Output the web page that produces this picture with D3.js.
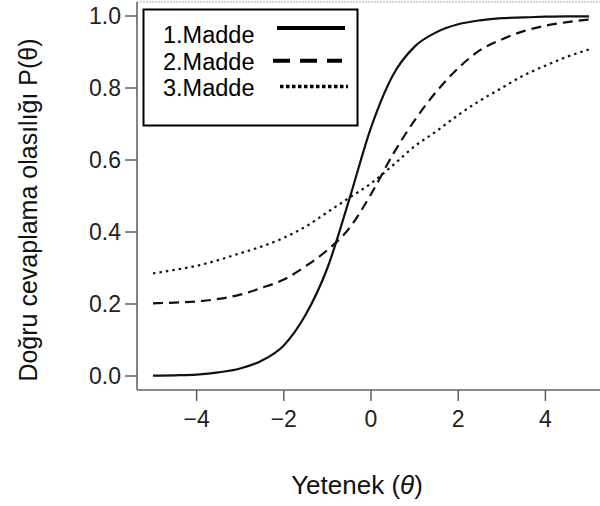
<!DOCTYPE html>
<html>
<head>
<meta charset="utf-8">
<script src="https://cdn.jsdelivr.net/npm/d3@7"></script>
<style>
  body { margin: 0; background: #fff; }
  svg { display: block; font-family: "Liberation Sans", Arial, sans-serif; }
  .tick-label { fill: #222; font-size: 23px; }
</style>
</head>
<body>
<svg id="chart" width="600" height="506"></svg>
<script>
const theta = [-5, -4.5, -4, -3.5, -3, -2.5, -2, -1.5, -1, -0.5, 0, 0.5, 1, 1.5, 2, 2.5, 3, 3.5, 4, 4.5, 5];

// Probability of a correct answer, one array per item
const item1 = [0.001, 0.002, 0.004, 0.01, 0.021, 0.043, 0.085, 0.17, 0.30, 0.49, 0.69, 0.835, 0.915, 0.955, 0.977, 0.988, 0.994, 0.996, 0.998, 0.999, 0.999];
const item2 = [0.202, 0.204, 0.207, 0.214, 0.226, 0.245, 0.268, 0.305, 0.35, 0.41, 0.505, 0.615, 0.71, 0.79, 0.855, 0.905, 0.935, 0.958, 0.973, 0.983, 0.99];
const item3 = [0.285, 0.295, 0.306, 0.322, 0.341, 0.36, 0.384, 0.415, 0.455, 0.495, 0.535, 0.585, 0.638, 0.68, 0.725, 0.765, 0.80, 0.835, 0.862, 0.887, 0.907];

const itemNames = ['1.Madde', '2.Madde', '3.Madde'];
const xTicks = [-4, -2, 0, 2, 4];
const yTicks = [0, 0.2, 0.4, 0.6, 0.8, 1.0];

const svg = d3.select('#chart');

// scales fitted to the reference frame
const xScale = d3.scaleLinear().domain([-5, 5]).range([153, 589]);
const yScale = d3.scaleLinear().domain([0, 1]).range([376, 16]);

const box = {left: 137, top: 2, bottom: 390};

// plot frame (right side runs off the image)
svg.append('line')
    .attr('x1', box.left).attr('x2', 600)
    .attr('y1', box.top).attr('y2', box.top)
    .attr('stroke', '#aaa').attr('stroke-width', 1.2)
    .attr('stroke-dasharray', '2,1');
svg.append('line')
    .attr('x1', box.left).attr('x2', box.left)
    .attr('y1', box.top).attr('y2', box.bottom)
    .attr('stroke', '#666').attr('stroke-width', 1.6);
svg.append('line')
    .attr('x1', box.left).attr('x2', 600)
    .attr('y1', box.bottom).attr('y2', box.bottom)
    .attr('stroke', '#666').attr('stroke-width', 1.6);

// y axis ticks and labels
const yAxisG = svg.append('g');
yAxisG.selectAll('line').data(yTicks).join('line')
    .attr('x1', box.left - 12).attr('x2', box.left)
    .attr('y1', d => yScale(d)).attr('y2', d => yScale(d))
    .attr('stroke', '#555').attr('stroke-width', 1.4);
yAxisG.selectAll('text').data(yTicks).join('text')
    .attr('class', 'tick-label')
    .attr('x', 121)
    .attr('y', d => yScale(d))
    .attr('dy', '0.36em')
    .attr('text-anchor', 'end')
    .text(d => d3.format('.1f')(d));

// x axis ticks and labels
const xAxisG = svg.append('g');
xAxisG.selectAll('line').data(xTicks).join('line')
    .attr('x1', d => xScale(d)).attr('x2', d => xScale(d))
    .attr('y1', box.bottom).attr('y2', box.bottom + 11)
    .attr('stroke', '#555').attr('stroke-width', 1.4);
xAxisG.selectAll('text').data(xTicks).join('text')
    .attr('class', 'tick-label')
    .attr('x', d => xScale(d))
    .attr('y', 427)
    .attr('text-anchor', 'middle')
    .text(d => d < 0 ? '\u2212' + Math.abs(d) : d);

// axis titles
svg.append('text')
    .attr('transform', 'translate(37,210) rotate(-90)')
    .attr('text-anchor', 'middle')
    .attr('font-size', 25)
    .attr('fill', '#111')
    .text('Doğru cevaplama olasılığı P(θ)');

const xTitle = svg.append('text')
    .attr('x', 357).attr('y', 494)
    .attr('text-anchor', 'middle')
    .attr('font-size', 26)
    .attr('fill', '#111');
xTitle.append('tspan').text('Yetenek (');
xTitle.append('tspan').attr('font-style', 'italic').text('θ');
xTitle.append('tspan').text(')');

// curves
const series = [
    {name: itemNames[0], values: item1, dash: null},
    {name: itemNames[1], values: item2, dash: '10,6'},
    {name: itemNames[2], values: item3, dash: '2.5,4'}
];

const lineGen = d3.line()
    .x((d, i) => xScale(theta[i]))
    .y(d => yScale(d))
    .curve(d3.curveMonotoneX);

svg.selectAll('.curve').data(series).join('path')
    .attr('class', 'curve')
    .attr('fill', 'none')
    .attr('stroke', '#111')
    .attr('stroke-width', 2.2)
    .attr('stroke-dasharray', d => d.dash)
    .attr('d', d => lineGen(d.values));

// legend
const legend = svg.append('g');
legend.append('rect')
    .attr('x', 143.5).attr('y', 9.5)
    .attr('width', 214).attr('height', 116)
    .attr('fill', '#fff')
    .attr('stroke', '#000').attr('stroke-width', 2);

const legendDash = [null, '17,10', '3.5,2.5'];
const rows = legend.selectAll('g.row').data(series).join('g')
    .attr('class', 'row')
    .attr('transform', (d, i) => `translate(0,${43 + i * 26.7})`);
rows.append('text')
    .attr('x', 163).attr('y', 0)
    .attr('font-size', 23.5)
    .attr('fill', '#000')
    .text(d => d.name);
rows.append('line')
    .attr('x1', (d, i) => [277, 273, 280][i])
    .attr('x2', (d, i) => [345, 342, 348][i])
    .attr('y1', (d, i) => [-15, -9, -10][i])
    .attr('y2', (d, i) => [-15, -9, -10][i])
    .attr('stroke', '#000')
    .attr('stroke-width', (d, i) => [4, 4, 3.5][i])
    .attr('stroke-dasharray', (d, i) => legendDash[i]);
</script>
</body>
</html>
